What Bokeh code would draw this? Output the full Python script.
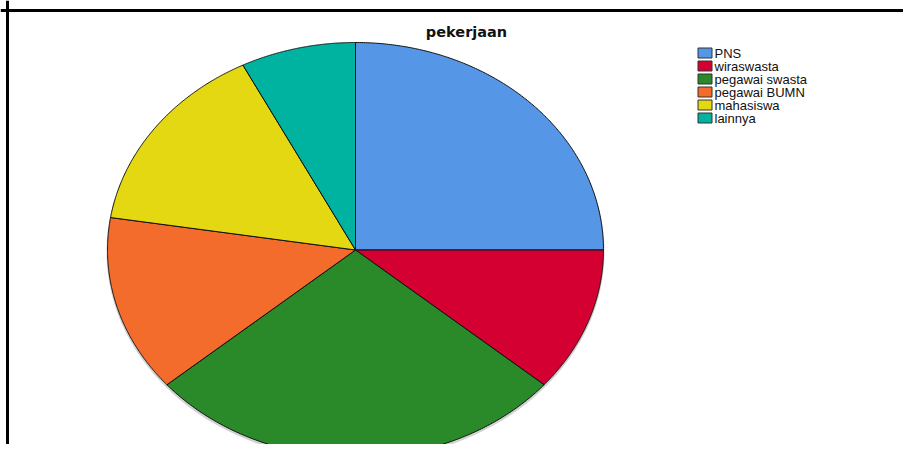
import numpy as np
from bokeh.plotting import figure
from bokeh.models import ColumnDataSource, Range1d, Label, Span
from bokeh.core.properties import value
from bokeh.embed import file_html
from bokeh.resources import INLINE

# ---- data ----
title_text = "pekerjaan"
categories = ["PNS", "wiraswasta", "pegawai swasta", "pegawai BUMN", "mahasiswa", "lainnya"]
counts = [20, 9, 22, 11, 12, 6]
colors = ["#5596E6", "#D50032", "#2A8A2A", "#F36C2B", "#E3D812", "#00B3A0"]

# ---- layout (pixel-like data space) ----
W, H = 903, 444
cx, cy = 355, 194.5
rx, ry = 248, 207.5

vals = np.array(counts, dtype=float)
fr = vals / vals.sum()
ends = np.cumsum(fr)
starts = ends - fr

xs, ys = [], []
for s, e in zip(starts, ends):
    a0 = np.pi / 2 - 2 * np.pi * s
    a1 = np.pi / 2 - 2 * np.pi * e
    t = np.linspace(a0, a1, 200)
    xs.append(list(np.concatenate([[cx], cx + rx * np.cos(t)])))
    ys.append(list(np.concatenate([[cy], cy + ry * np.sin(t)])))

src = ColumnDataSource(dict(xs=xs, ys=ys, color=colors, label=categories))

p = figure(width=W, height=H, x_range=Range1d(0, W), y_range=Range1d(0, H),
           output_backend="svg", toolbar_location=None, min_border=0)
p.axis.visible = False
p.grid.visible = False
p.outline_line_color = None
p.background_fill_color = "white"

# faint shadow
p.ellipse(x=cx, y=cy - 2, width=2 * rx + 2, height=2 * ry + 2,
          fill_color="#999999", fill_alpha=0.45, line_color=None)

p.patches("xs", "ys", source=src, fill_color="color", line_color="#111111", line_width=1)

# legend (manual, SPSS-like compact rows)
row_top, row_step = 444 - 52.5, 13
idx = np.arange(len(categories))
leg = ColumnDataSource(dict(
    x=np.full(len(categories), 704.5),
    tx=np.full(len(categories), 714.0),
    y=row_top - row_step * idx,
    color=colors, label=categories))
p.rect(x="x", y="y", width=14, height=10, source=leg, fill_color="color",
       line_color="#333333", line_width=1)
p.text(x="tx", y="y", text="label", source=leg, text_baseline="middle", text_align="left",
       text_font=value("Liberation Sans"), text_font_size="13px", text_color="#111111")

p.add_layout(Label(x=466, y=413, text=title_text, text_align="center", text_baseline="middle",
                   text_font="DejaVu Sans", text_font_style="bold", text_font_size="14.5px",
                   text_color="#111111"))

p.add_layout(Span(location=434, dimension="width", line_color="black", line_width=3))
p.add_layout(Span(location=7, dimension="height", line_color="black", line_width=3))

open("out.html", "w").write(file_html(p, INLINE))
